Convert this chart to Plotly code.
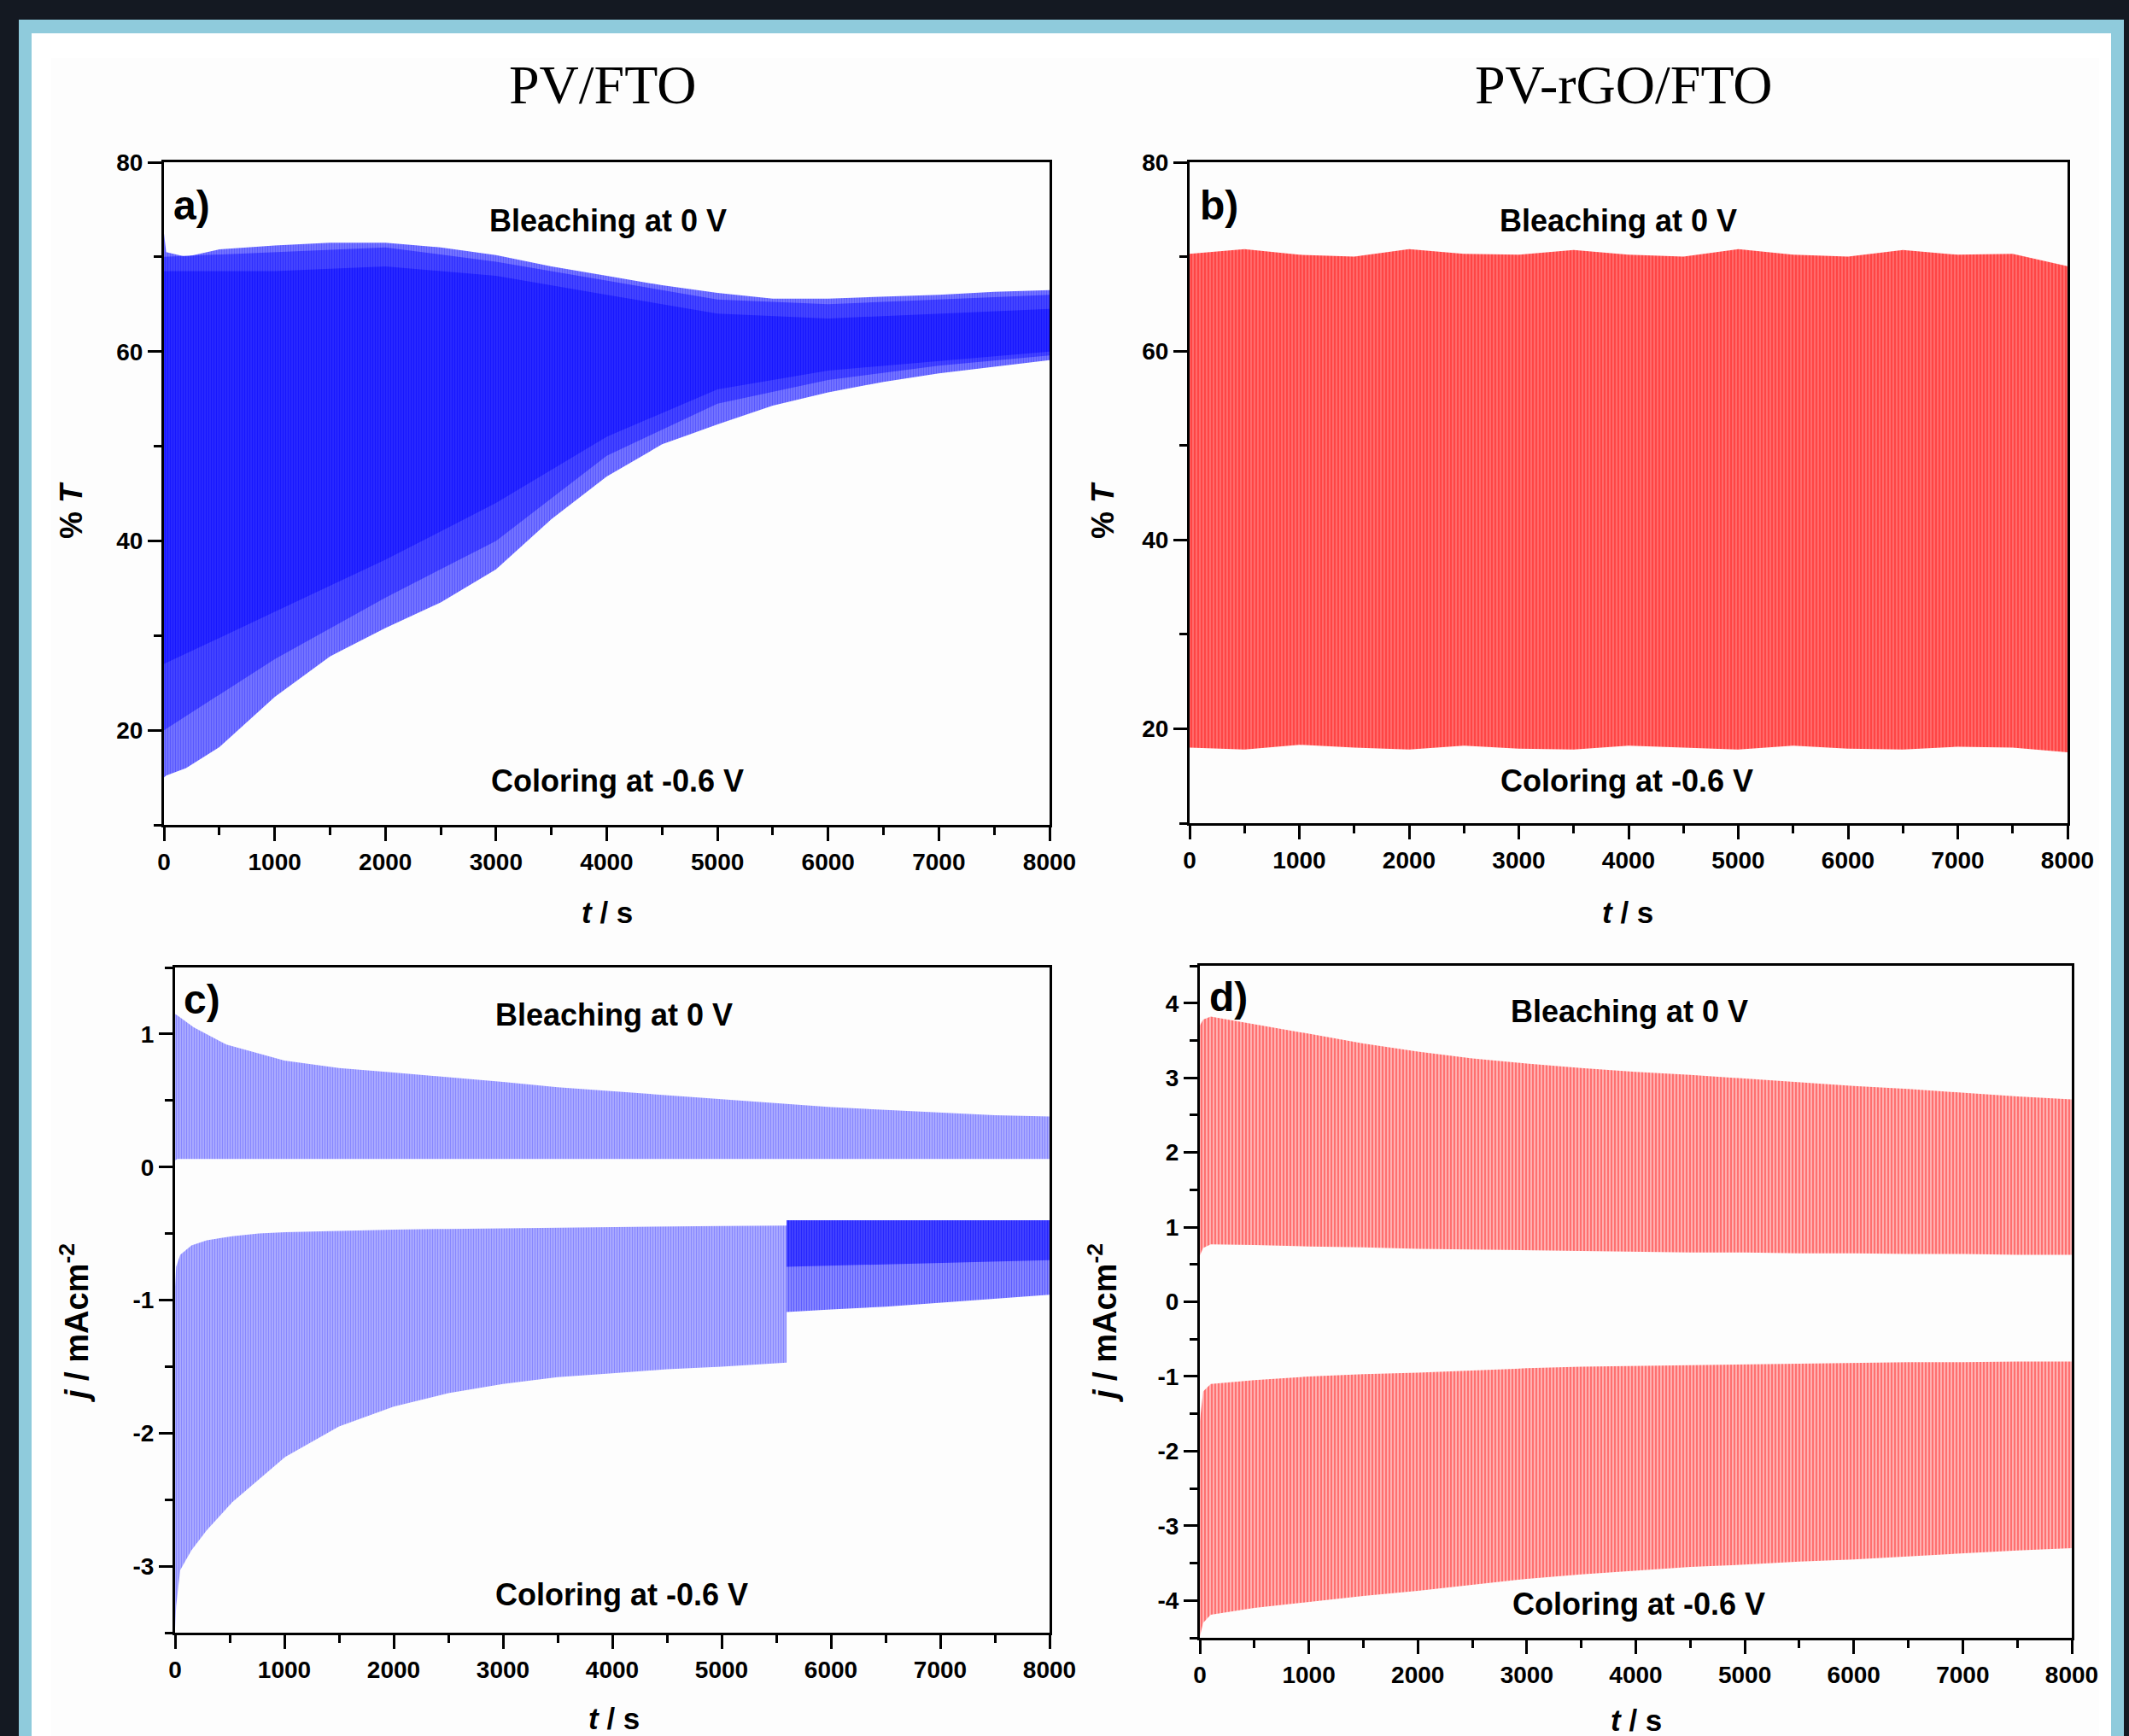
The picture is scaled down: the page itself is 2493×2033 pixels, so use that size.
import plotly.graph_objects as go

W, H = 2493, 2033

# ---------------- data (envelopes) ----------------
# Panel a: PV/FTO transmittance (%T) vs t (s)
t_a = [0, 20, 200, 500, 1000, 1500, 2000, 2500, 3000, 3500, 4000, 4500, 5000, 5500, 6000, 6500, 7000, 7500, 8000]
upper_a = [72.5, 70.5, 70.0, 70.8, 71.2, 71.5, 71.5, 71.0, 70.2, 69.0, 68.0, 67.0, 66.2, 65.6, 65.6, 65.8, 66.0, 66.3, 66.5]
lower_a = [15.0, 15.2, 16.0, 18.2, 23.5, 27.8, 30.8, 33.5, 37.0, 42.3, 46.8, 50.2, 52.3, 54.3, 55.7, 56.8, 57.7, 58.4, 59.1]
t_mid_a = [0, 1000, 2000, 3000, 4000, 5000, 6000, 7000, 8000]
mid_top_a = [70.0, 70.5, 71.0, 69.5, 67.5, 65.5, 65.0, 65.5, 66.0]
mid_bottom_a = [20.0, 27.5, 34.0, 40.0, 49.0, 54.5, 57.0, 58.5, 59.6]
core_top_a = [68.5, 68.5, 69.0, 68.0, 66.0, 64.0, 63.5, 64.0, 64.5]
core_bottom_a = [27.0, 32.5, 38.0, 44.0, 51.0, 56.0, 58.0, 59.0, 60.0]

# Panel b: PV-rGO/FTO transmittance (%T)
t_b = [0, 500, 1000, 1500, 2000, 2500, 3000, 3500, 4000, 4500, 5000, 5500, 6000, 6500, 7000, 7500, 8000]
upper_b = [70.3, 70.8, 70.2, 70.0, 70.8, 70.3, 70.2, 70.7, 70.2, 70.0, 70.8, 70.2, 70.0, 70.7, 70.2, 70.3, 69.0]
lower_b = [18.0, 17.8, 18.3, 18.0, 17.8, 18.2, 17.9, 17.8, 18.2, 18.0, 17.8, 18.2, 17.9, 17.8, 18.1, 18.0, 17.5]

# Panel c: PV/FTO current density (mA cm^-2)
t_c = [0, 20, 170, 470, 1000, 1500, 2000, 2500, 3000, 3500, 4000, 4500, 5000, 5500, 6000, 6500, 7000, 7500, 8000]
bleach_top_c = [1.15, 1.14, 1.05, 0.92, 0.80, 0.745, 0.71, 0.675, 0.64, 0.60, 0.57, 0.54, 0.51, 0.48, 0.45, 0.43, 0.41, 0.39, 0.38]
bleach_bottom_c = [0.05, 0.06, 0.06, 0.06, 0.06, 0.06, 0.06, 0.06, 0.06, 0.06, 0.06, 0.06, 0.06, 0.06, 0.06, 0.06, 0.06, 0.06, 0.06]
t_c1 = [0, 10, 47, 150, 290, 523, 766, 1007, 1500, 2000, 2500, 3000, 3500, 4000, 4500, 5000, 5594]
color_top_c1 = [-0.90, -0.75, -0.66, -0.59, -0.55, -0.52, -0.50, -0.49, -0.48, -0.47, -0.465, -0.46, -0.455, -0.45, -0.445, -0.443, -0.44]
color_bottom_c1 = [-3.47, -3.30, -3.03, -2.88, -2.73, -2.52, -2.35, -2.18, -1.95, -1.80, -1.70, -1.63, -1.58, -1.55, -1.52, -1.50, -1.47]
t_c2 = [5594, 6000, 6500, 7000, 7500, 8000]
color_top_c2 = [-0.40, -0.40, -0.40, -0.40, -0.40, -0.40]
color_bottom_c2 = [-1.09, -1.07, -1.05, -1.02, -0.99, -0.96]
dense_bottom_c2 = [-0.75, -0.74, -0.73, -0.72, -0.71, -0.70]

# Panel d: PV-rGO/FTO current density (mA cm^-2)
t_d = [0, 30, 100, 500, 1000, 1500, 2000, 2500, 3000, 3500, 4000, 4500, 5000, 5500, 6000, 6500, 7000, 7500, 8000]
bleach_top_d = [3.70, 3.78, 3.82, 3.72, 3.59, 3.46, 3.35, 3.26, 3.19, 3.13, 3.08, 3.04, 2.99, 2.94, 2.89, 2.85, 2.80, 2.75, 2.71]
bleach_bottom_d = [0.62, 0.72, 0.77, 0.76, 0.74, 0.73, 0.71, 0.70, 0.69, 0.68, 0.67, 0.66, 0.66, 0.65, 0.65, 0.64, 0.64, 0.63, 0.63]
color_top_d = [-1.60, -1.20, -1.10, -1.05, -1.00, -0.97, -0.95, -0.92, -0.89, -0.87, -0.86, -0.85, -0.84, -0.83, -0.82, -0.81, -0.81, -0.80, -0.80]
color_bottom_d = [-4.48, -4.30, -4.19, -4.10, -4.02, -3.94, -3.87, -3.79, -3.71, -3.65, -3.60, -3.55, -3.52, -3.48, -3.45, -3.41, -3.37, -3.33, -3.30]

x_tickvals = [0, 1000, 2000, 3000, 4000, 5000, 6000, 7000, 8000]
x_ticktext = ["0", "1000", "2000", "3000", "4000", "5000", "6000", "7000", "8000"]
T_tickvals = [20, 40, 60, 80]
T_ticktext = ["20", "40", "60", "80"]
jc_tickvals = [-3, -2, -1, 0, 1]
jc_ticktext = ["-3", "-2", "-1", "0", "1"]
jd_tickvals = [-4, -3, -2, -1, 0, 1, 2, 3, 4]
jd_ticktext = ["-4", "-3", "-2", "-1", "0", "1", "2", "3", "4"]

titles = ["PV/FTO", "PV-rGO/FTO"]
panel_labels = ["a)", "b)", "c)", "d)"]
bleach_text = "Bleaching at 0 V"
color_text = "Coloring at -0.6 V"

# ---------------- figure ----------------
def fx(p):
    return p / W

def fy(p):
    return 1 - p / H

fig = go.Figure()

def band(t, top, bottom, xa, ya, fg, bg, size, solidity):
    fig.add_trace(go.Scatter(
        x=list(t) + list(t)[::-1],
        y=list(top) + list(bottom)[::-1],
        mode="lines", line=dict(width=0, color=bg),
        fill="toself", fillcolor=bg,
        fillpattern=dict(shape="|", fgcolor=fg, bgcolor=bg, size=size, solidity=solidity),
        xaxis=xa, yaxis=ya, hoverinfo="skip", showlegend=False))

# panel a
band(t_a, upper_a, lower_a, "x", "y", "#3030ff", "#8080ff", 3, 0.55)
band(t_mid_a, mid_top_a, mid_bottom_a, "x", "y", "#1414ff", "#4c4cff", 3, 0.55)
band(t_mid_a, core_top_a, core_bottom_a, "x", "y", "#0000ff", "#2e2eff", 3, 0.5)
# panel b
band(t_b, upper_b, lower_b, "x2", "y2", "#ff2020", "#ff6a6a", 4, 0.5)
# panel c
band(t_c, bleach_top_c, bleach_bottom_c, "x3", "y3", "#5a5aff", "#b4b4ff", 3, 0.5)
band(t_c1, color_top_c1, color_bottom_c1, "x3", "y3", "#5a5aff", "#b4b4ff", 3, 0.5)
band(t_c2, color_top_c2, color_bottom_c2, "x3", "y3", "#2a2aff", "#9090ff", 3, 0.5)
band(t_c2, color_top_c2, dense_bottom_c2, "x3", "y3", "#0000ff", "#4a4aff", 3, 0.5)
# panel d
band(t_d, bleach_top_d, bleach_bottom_d, "x4", "y4", "#ff3030", "#ffb0b0", 4, 0.5)
band(t_d, color_top_d, color_bottom_d, "x4", "y4", "#ff3030", "#ffb0b0", 4, 0.5)

TICKFONT = dict(family="Liberation Sans, Arial, sans-serif", size=28, color="black", weight="bold")

def axis(dom, rng, tickvals, ticktext, minor_dtick, anchor):
    return dict(domain=dom, range=rng, anchor=anchor, automargin=False,
                showline=True, mirror=True, linecolor="black", linewidth=3,
                ticks="outside", ticklen=16, tickwidth=3, tickcolor="black",
                tickmode="array", tickvals=tickvals, ticktext=ticktext,
                showgrid=False, zeroline=False, fixedrange=True, tickfont=TICKFONT,
                minor=dict(ticks="outside", ticklen=9, tickwidth=3, tickcolor="black",
                           tickmode="linear", tick0=0, dtick=minor_dtick, showgrid=False))

boxes = {
    "a": (192, 1229, 190, 966),
    "b": (1393, 2421, 190, 964),
    "c": (205, 1229, 1133, 1912),
    "d": (1405, 2426, 1131, 1918),
}

def dom_x(b):
    return [fx(b[0]), fx(b[1])]

def dom_y(b):
    return [fy(b[3]), fy(b[2])]

fig.update_layout(
    xaxis=axis(dom_x(boxes["a"]), [0, 8000], x_tickvals, x_ticktext, 500, "y"),
    yaxis=axis(dom_y(boxes["a"]), [10, 80], T_tickvals, T_ticktext, 10, "x"),
    xaxis2=axis(dom_x(boxes["b"]), [0, 8000], x_tickvals, x_ticktext, 500, "y2"),
    yaxis2=axis(dom_y(boxes["b"]), [10, 80], T_tickvals, T_ticktext, 10, "x2"),
    xaxis3=axis(dom_x(boxes["c"]), [0, 8000], x_tickvals, x_ticktext, 500, "y3"),
    yaxis3=axis(dom_y(boxes["c"]), [-3.5, 1.5], jc_tickvals, jc_ticktext, 0.5, "x3"),
    xaxis4=axis(dom_x(boxes["d"]), [0, 8000], x_tickvals, x_ticktext, 500, "y4"),
    yaxis4=axis(dom_y(boxes["d"]), [-4.5, 4.5], jd_tickvals, jd_ticktext, 0.5, "x4"),
)

# background: dark page, light-blue frame, white sheet
shapes = [
    dict(type="rect", xref="paper", yref="paper", x0=fx(22), x1=fx(2487), y0=0, y1=fy(23),
         fillcolor="#8fcbdc", line=dict(width=0), layer="below"),
    dict(type="rect", xref="paper", yref="paper", x0=fx(37), x1=fx(2472), y0=0, y1=fy(39),
         fillcolor="#ffffff", line=dict(width=0), layer="below"),
    dict(type="rect", xref="paper", yref="paper", x0=fx(60), x1=fx(2458), y0=0, y1=fy(68),
         fillcolor="#fdfdfd", line=dict(width=0), layer="below"),
]

ann = []
SANS = "Liberation Sans, Arial, sans-serif"
def add(text, x, y, size, angle=0, family=SANS, weight="bold"):
    ann.append(dict(text=text, x=fx(x), y=fy(y), xref="paper", yref="paper",
                    xanchor="center", yanchor="middle", showarrow=False, textangle=angle,
                    font=dict(family=family, size=size, color="black", weight=weight)))

add(titles[0], 705, 99, 64, family="Liberation Serif, Times New Roman, serif", weight="normal")
add(titles[1], 1901, 99, 64, family="Liberation Serif, Times New Roman, serif", weight="normal")

label_pos = [(224, 240), (1427, 240), (236, 1170), (1438, 1167)]
for lab, (x, y) in zip(panel_labels, label_pos):
    add(lab, x, y, 48)

bleach_pos = [(712, 258), (1895, 259), (719, 1188), (1908, 1184)]
color_pos = [(723, 914), (1905, 914), (728, 1867), (1919, 1878)]
for (x, y) in bleach_pos:
    add(bleach_text, x, y, 36)
for (x, y) in color_pos:
    add(color_text, x, y, 36)

add("% <i>T</i>", 83, 598, 36, angle=-90)
add("% <i>T</i>", 1291, 598, 36, angle=-90)
add("<i>j</i> / mAcm<sup>-2</sup>", 87, 1550, 38, angle=-90)
add("<i>j</i> / mAcm<sup>-2</sup>", 1291, 1550, 38, angle=-90)
add("<i>t</i> / s", 711, 1068, 35)
add("<i>t</i> / s", 1906, 1068, 35)
add("<i>t</i> / s", 719, 2012, 35)
add("<i>t</i> / s", 1916, 2014, 35)

fig.update_layout(
    width=W, height=H, autosize=False,
    margin=dict(l=0, r=0, t=0, b=0, pad=0, autoexpand=False),
    paper_bgcolor="#141922", plot_bgcolor="rgba(0,0,0,0)",
    shapes=shapes, annotations=ann, showlegend=False,
)

fig.write_html(
    "out.html",
    config={"responsive": False, "displayModeBar": False},
    post_script=("document.documentElement.style.margin='0';document.body.style.margin='0';"
                 "document.body.style.padding='0';document.body.style.overflow='hidden';"
                 "document.documentElement.style.background='#141922';document.body.style.background='#141922';"),
)
